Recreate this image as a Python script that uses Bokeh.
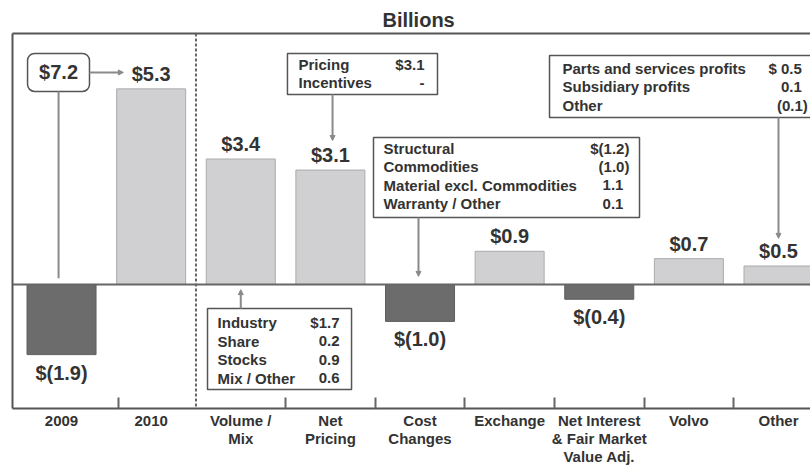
from bokeh.plotting import figure
from bokeh.models import (FixedTicker, LinearAxis, Span, Arrow, NormalHead, Range1d)
from bokeh.core.properties import value
from bokeh.embed import file_html
from bokeh.resources import INLINE

# ---------------- data ----------------
categories = ["2009", "2010", "Volume /\nMix", "Net\nPricing", "Cost\nChanges",
              "Exchange", "Net Interest\n& Fair Market\nValue Adj.", "Volvo", "Other"]
values = [-1.9, 5.3, 3.4, 3.1, -1.0, 0.9, -0.4, 0.7, 0.5]
value_labels = ["$(1.9)", "$5.3", "$3.4", "$3.1", "$(1.0)", "$0.9", "$(0.4)", "$0.7", "$0.5"]
change_label = "$7.2"

pricing_items = ["Pricing", "Incentives"]
pricing_vals = ["$3.1", "-"]
cost_items = ["Structural", "Commodities", "Material excl. Commodities", "Warranty / Other"]
cost_vals = ["$(1.2)", "(1.0)", "1.1", "0.1"]
volume_items = ["Industry", "Share", "Stocks", "Mix / Other"]
volume_vals = ["$1.7", "0.2", "0.9", "0.6"]
other_items = ["Parts and services profits", "Subsidiary profits", "Other"]
other_vals = ["$ 0.5", "0.1", "(0.1)"]

FONT = value("Liberation Sans")
DARK = "#333333"
LINE = "#555555"
ARROW = "#8a8a8a"

idx = list(range(len(categories)))
tops = [max(v, 0) for v in values]
bottoms = [min(v, 0) for v in values]
fills = ["#d0d0d2" if v >= 0 else "#6c6c6c" for v in values]
edges = ["#ababab" if v >= 0 else "#5e5e5e" for v in values]

p = figure(width=810, height=468, output_backend="svg", toolbar_location=None,
           x_range=Range1d(-0.547, 8.357), y_range=Range1d(-3.36, 6.80),
           min_border_left=12, min_border_right=0, min_border_top=33, min_border_bottom=0,
           background_fill_color="white", border_fill_color="white")
p.outline_line_color = None
p.xgrid.visible = False
p.ygrid.visible = False

# title
p.title.text = "Billions"
p.title.align = "left"
p.title.offset = 370
p.title.text_font = "Liberation Sans"
p.title.text_font_size = "20px"
p.title.text_font_style = "bold"
p.title.text_color = DARK
p.title.standoff = 5

# left frame line
ya = p.yaxis[0]
ya.ticker = FixedTicker(ticks=[])
ya.major_label_text_font_size = "0px"
ya.major_tick_out = 0
ya.major_tick_in = 0
ya.minor_tick_out = 0
ya.minor_tick_in = 0
ya.major_label_standoff = 0
ya.axis_line_color = LINE
ya.axis_line_width = 2

# bottom axis with category labels
xa = p.below[0]
boundaries = [0.64, 2.5, 3.5, 4.5, 5.5, 6.5, 7.5]
xa.ticker = FixedTicker(ticks=idx, minor_ticks=boundaries)
xa.major_label_overrides = {i: c for i, c in zip(idx, categories)}
xa.major_tick_line_color = None
xa.major_tick_in = 0
xa.major_tick_out = 0
xa.minor_tick_in = 11
xa.minor_tick_out = 0
xa.minor_tick_line_color = "#666666"
xa.minor_tick_line_width = 2
xa.axis_line_color = LINE
xa.axis_line_width = 2
xa.major_label_text_font = "Liberation Sans"
xa.major_label_text_font_style = "bold"
xa.major_label_text_font_size = "15px"
xa.major_label_text_line_height = 1.08
xa.major_label_text_color = DARK
xa.major_label_standoff = 3

# top frame line
top_axis = LinearAxis(ticker=FixedTicker(ticks=[]), major_label_text_font_size="0px",
                      major_tick_out=0, major_tick_in=0, minor_tick_out=0, minor_tick_in=0,
                      major_label_standoff=0, axis_line_color=LINE, axis_line_width=2)
p.add_layout(top_axis, "above")

# bars
p.vbar(x=idx, top=tops, bottom=bottoms, width=0.77, fill_color=fills, line_color=edges,
       line_width=1)

# zero line
p.add_layout(Span(location=0, dimension="width", line_color="#666666", line_width=2))
# dashed separator between years and drivers
p.add_layout(Span(location=1.5, dimension="height", line_color="#666666", line_width=2,
                  line_dash="3 2"))

# value labels
pos_i = [i for i, v in zip(idx, values) if v >= 0]
neg_i = [i for i, v in zip(idx, values) if v < 0]
p.text(x=pos_i, y=[values[i] for i in pos_i], text=[value_labels[i] for i in pos_i],
       text_font=FONT, text_font_style="bold", text_font_size="20px", text_color=DARK,
       text_align="center", text_baseline="middle", y_offset=-15)
p.text(x=neg_i, y=[values[i] for i in neg_i], text=[value_labels[i] for i in neg_i],
       text_font=FONT, text_font_style="bold", text_font_size="20px", text_color=DARK,
       text_align="center", text_baseline="middle", y_offset=18)

ROW = 0.5014


def draw_box(left, right, top, bottom, items, vals, tx, vx, y0):
    p.quad(left=[left], right=[right], top=[top], bottom=[bottom], fill_color="white",
           line_color=LINE, line_width=1.5)
    ys = [y0 - ROW * k for k in range(len(items))]
    p.text(x=[tx] * len(items), y=ys, text=items, text_font=FONT, text_font_style="bold",
           text_font_size="15px", text_color=DARK, text_align="left", text_baseline="middle")
    offs = [6 if s.endswith(")") else 0 for s in vals]
    p.text(x=[vx] * len(vals), y=ys, text=vals, x_offset=offs, text_font=FONT,
           text_font_style="bold", text_font_size="15px", text_color=DARK,
           text_align="right", text_baseline="middle")


def arrow(x0, y0, x1, y1, head=True):
    if head:
        p.add_layout(Arrow(end=NormalHead(size=5, fill_color=ARROW, line_color=ARROW),
                           x_start=x0, y_start=y0, x_end=x1, y_end=y1,
                           line_color=ARROW, line_width=2))
    else:
        p.segment(x0=[x0], y0=[y0], x1=[x1], y1=[y1], line_color=ARROW, line_width=2)


# $7.2 change box (rounded)
p.quad(left=[-0.379], right=[0.312], top=[6.26], bottom=[5.23], fill_color="white",
       line_color=LINE, line_width=1.5, border_radius=7)
p.text(x=[-0.033], y=[5.745], text=[change_label], text_font=FONT, text_font_style="bold",
       text_font_size="20px", text_color=DARK, text_align="center", text_baseline="middle")
arrow(0.312, 5.745, 0.69, 5.745)
arrow(-0.033, 5.23, -0.033, 0.17, head=False)

# pricing box
draw_box(2.521, 4.195, 6.26, 5.149, pricing_items, pricing_vals, 2.644, 4.05, 5.962)
arrow(3.024, 5.149, 3.024, 3.90)

# cost box
draw_box(3.481, 6.449, 3.984, 1.816, cost_items, cost_vals, 3.593, 6.27, 3.686)
arrow(3.983, 1.816, 3.983, 0.22)

# volume box
draw_box(1.629, 3.236, -0.650, -2.846, volume_items, volume_vals, 1.741, 3.102, -1.030)
arrow(2.0, -0.650, 2.0, -0.14)

# other box
draw_box(5.445, 8.6, 6.206, 4.526, other_items, other_vals, 5.59, 8.26, 5.854)
arrow(8.0, 4.526, 8.0, 1.25)

open("out.html", "w").write(file_html(p, INLINE))
